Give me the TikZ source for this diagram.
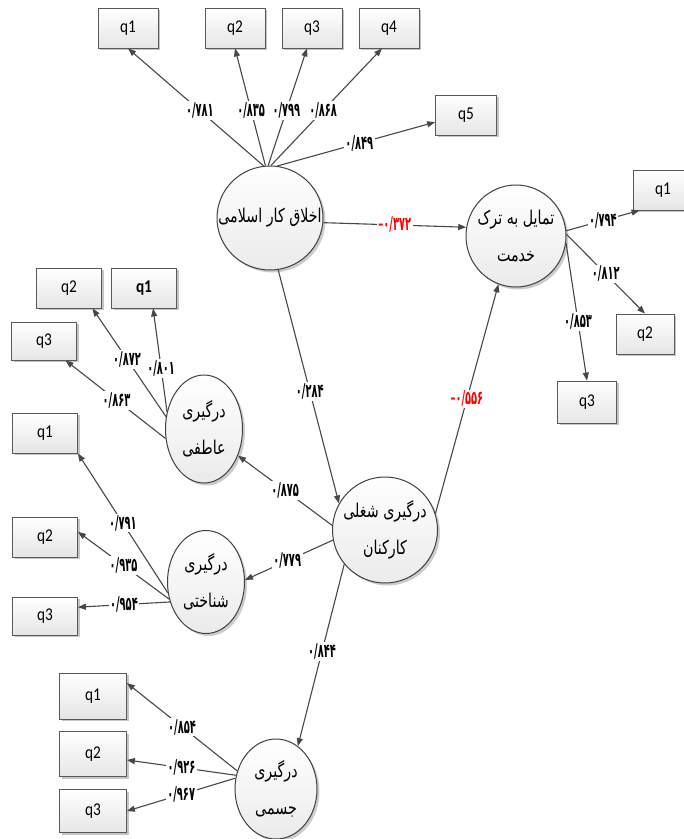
\documentclass[tikz,border=0pt]{standalone}
\usepackage{fontspec}
\setmainfont{Carlito}[FakeStretch=0.85]
\newfontfamily\fa[Script=Arabic,FakeStretch=0.75]{DejaVu Sans}
\newfontfamily\fanum[Script=Arabic,FakeStretch=0.52]{DejaVu Sans}
\TeXXeTstate=1
\usetikzlibrary{arrows.meta,shapes.geometric,shadows}
\newcommand{\negsign}{{\normalfont\bfseries -}}
\tikzset{
  conn/.style={draw=black!72, line width=1.1pt},
  arr/.style={conn,-{Triangle[length=8pt,width=6pt]}},
  qbox/.style={draw=black!65, line width=0.8pt, top color=white, bottom color=gray!20,
    minimum width=62pt, minimum height=40pt, inner sep=0pt,
    font=\fontsize{18}{18}\selectfont,
    drop shadow={opacity=0.45, shadow xshift=2pt, shadow yshift=-2pt}},
  lat/.style={ellipse, draw=black!75, line width=1pt, top color=white, bottom color=gray!16,
    inner sep=0pt,
    drop shadow={opacity=0.4, shadow xshift=2.5pt, shadow yshift=-2.5pt}},
  lattext/.style={font=\fa\fontsize{19}{37}\selectfont, align=center, inner sep=0pt},
  lbl/.style={fill=white, inner sep=1.5pt, font=\fanum\bfseries\fontsize{19}{19}\selectfont},
  neg/.style={lbl, text=red}
}
\begin{document}
\begin{tikzpicture}[x=1pt,y=-1pt]
\useasboundingbox (0,0) rectangle (684,839);
\fill[white] (0,0) rectangle (684,839);

% latent variables
\node[lat, minimum width=106pt, minimum height=104pt,
  label={[lattext]center:{\beginR اخلاق کار اسلامی\endR}}] (A) at (270,218) {};
\node[lat, minimum width=100pt, minimum height=102pt,
  label={[lattext]center:{\beginR تمایل به ترک\endR\\\beginR خدمت\endR}}] (B) at (516,236) {};
\node[lat, minimum width=105pt, minimum height=106pt,
  label={[lattext]center:{\beginR درگیری شغلی\endR\\\beginR کارکنان\endR}}] (C) at (385,530) {};
\node[lat, minimum width=77pt, minimum height=108pt,
  label={[lattext]center:{\beginR درگیری\endR\\\beginR عاطفی\endR}}] (D) at (204,429) {};
\node[lat, minimum width=77pt, minimum height=103pt,
  label={[lattext]center:{\beginR درگیری\endR\\\beginR شناختی\endR}}] (E) at (206,582) {};
\node[lat, minimum width=82pt, minimum height=100pt,
  label={[lattext]center:{\beginR درگیری\endR\\\beginR جسمی\endR}}] (F) at (276,789) {};

% indicators
\node[qbox, minimum width=60pt] (tq1) at (128,28) {q1};
\node[qbox, minimum width=60pt] (tq2) at (235,28) {q2};
\node[qbox, minimum width=60pt] (tq3) at (312,28) {q3};
\node[qbox, minimum width=60pt] (tq4) at (389,28) {q4};
\node[qbox, minimum width=61pt] (tq5) at (466,115) {q5};

\node[qbox, minimum width=60pt] (rq1) at (663,190) {q1};
\node[qbox, minimum width=58pt] (rq2) at (645,334) {q2};
\node[qbox, minimum width=59pt, minimum height=42pt] (rq3) at (587,402) {q3};

\node[qbox, minimum width=65pt] (lq2) at (69,288) {q2};
\node[qbox, minimum width=65pt, font=\fontsize{18}{18}\selectfont\bfseries] (lq1) at (144,288) {q1};
\node[qbox, minimum width=65pt, minimum height=38pt] (lq3) at (44,341) {q3};

\node[qbox, minimum width=65pt] (mq1) at (45,433) {q1};
\node[qbox, minimum width=65pt] (mq2) at (45,537) {q2};
\node[qbox, minimum width=65pt, minimum height=38pt] (mq3) at (45,616) {q3};

\node[qbox, minimum width=67pt, minimum height=46pt] (bq1) at (93,696) {q1};
\node[qbox, minimum width=67pt, minimum height=45pt] (bq2) at (93,754) {q2};
\node[qbox, minimum width=67pt, minimum height=43pt] (bq3) at (93,811) {q3};

% Islamic work ethic indicators
\draw[arr] (A.97) -- node[lbl, pos=0.47]{۰/۷۸۱} (tq1.south);
\draw[arr] (A.95) -- node[lbl, pos=0.47]{۰/۸۳۵} (tq2.south);
\draw[arr] (A.92) -- node[lbl, pos=0.47]{۰/۷۹۹} ([xshift=-5pt]tq3.south);
\draw[arr] (A.89) -- node[lbl, pos=0.47]{۰/۸۶۸} ([xshift=-7pt]tq4.south);
\draw[arr] (A.82) -- node[lbl, pos=0.52]{۰/۸۴۹} (tq5.193);

% structural paths
\draw[arr] (A.-5) -- node[neg]{\negsign۰/۳۷۲} (B.170);
\draw[arr] (A.-81) -- node[lbl, pos=0.52]{۰/۲۸۴} (C.150);
\draw[arr] (C.18) -- node[neg]{\negsign۰/۵۵۶} (B.-110);
\draw[arr] (C.175) -- node[lbl]{۰/۸۷۵} (D.-38);
\draw[arr] (C.191) -- node[lbl, pos=0.52]{۰/۷۷۹} (E.3);
\draw[arr] (C.-140) -- node[lbl, pos=0.48]{۰/۸۴۴} (F.63);

% turnover intention indicators
\draw[arr] (B.6) -- node[lbl]{۰/۷۹۴} (rq1.221);
\draw[arr] (B.2) -- node[lbl]{۰/۸۱۲} (rq2.north);
\draw[arr] (B.-8) -- node[lbl, pos=0.57]{۰/۸۵۳} (rq3.north);

% affective
\draw[arr] (D.155) -- node[lbl, pos=0.42]{۰/۸۰۱} (lq1.-66);
\draw[arr] (D.162) -- node[lbl, pos=0.53]{۰/۸۷۲} (lq2.-41);
\draw[arr] (D.194) -- node[lbl, pos=0.49]{۰/۸۶۳} (lq3.-42);

% cognitive
\draw[arr] (E.196) -- node[lbl]{۰/۷۹۱} (mq1.south east);
\draw[arr] (E.205) -- node[lbl]{۰/۹۳۵} (mq2.9);
\draw[arr] (E.209) -- node[lbl]{۰/۹۵۴} (mq3.15);

% physical
\draw[arr] (F.155) -- node[lbl]{۰/۸۵۴} (bq1.21);
\draw[arr] (F.161) -- node[lbl]{۰/۹۲۶} (bq2.-10);
\draw[arr] (F.165) -- node[lbl]{۰/۹۶۷} (bq3.east);
\end{tikzpicture}
\end{document}
